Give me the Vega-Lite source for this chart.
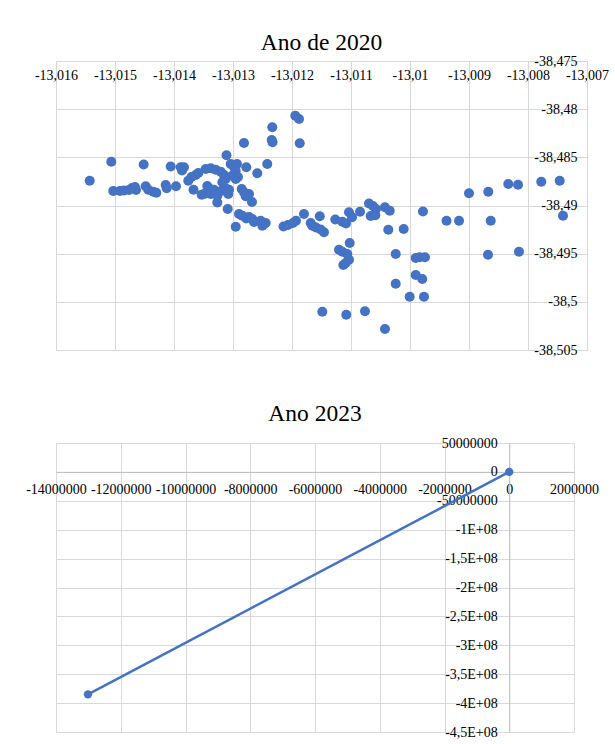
{
  "$schema": "https://vega.github.io/schema/vega-lite/v6.json",
  "background": "white",
  "padding": {"left": 25, "top": 30, "right": 5, "bottom": 5},
  "config": {
    "font": "Liberation Serif",
    "view": {"stroke": null},
    "title": {"font": "Liberation Serif", "fontSize": 23.5, "fontWeight": "normal", "color": "#000000", "anchor": "middle"},
    "axis": {
      "labelFont": "Liberation Serif", "labelFontSize": 14, "labelColor": "#000000",
      "gridColor": "#d9d9d9", "gridWidth": 1, "ticks": false, "title": null,
      "domainColor": "#d9d9d9", "labelOverlap": false, "labelFlush": false, "labelBound": false
    }
  },
  "vconcat": [
    {
      "title": {"text": "Ano de 2020", "offset": 0},
      "width": 531, "height": 289,
      "data": {"values": [
        {"lon": -13.015429, "lat": -38.487425}, {"lon": -13.015063, "lat": -38.485453},
        {"lon": -13.015029, "lat": -38.488494}, {"lon": -13.014915, "lat": -38.488494},
        {"lon": -13.014847, "lat": -38.488442}, {"lon": -13.014763, "lat": -38.48839},
        {"lon": -13.014712, "lat": -38.488183}, {"lon": -13.014661, "lat": -38.488079},
        {"lon": -13.014644, "lat": -38.48839}, {"lon": -13.014514, "lat": -38.485743},
        {"lon": -13.01448, "lat": -38.488006}, {"lon": -13.014436, "lat": -38.488359},
        {"lon": -13.014351, "lat": -38.488567}, {"lon": -13.0143, "lat": -38.48867},
        {"lon": -13.014141, "lat": -38.487871}, {"lon": -13.014124, "lat": -38.488214},
        {"lon": -13.014056, "lat": -38.485951}, {"lon": -13.013966, "lat": -38.488006},
        {"lon": -13.013886, "lat": -38.486034}, {"lon": -13.013831, "lat": -38.486034},
        {"lon": -13.013864, "lat": -38.486366}, {"lon": -13.013758, "lat": -38.487425},
        {"lon": -13.013703, "lat": -38.487041}, {"lon": -13.013632, "lat": -38.486833},
        {"lon": -13.013588, "lat": -38.486626}, {"lon": -13.013669, "lat": -38.488359},
        {"lon": -13.013531, "lat": -38.488878}, {"lon": -13.013463, "lat": -38.48621},
        {"lon": -13.013378, "lat": -38.486138}, {"lon": -13.013293, "lat": -38.486283},
        {"lon": -13.013208, "lat": -38.486491}, {"lon": -13.013153, "lat": -38.486833},
        {"lon": -13.013124, "lat": -38.487248}, {"lon": -13.013181, "lat": -38.487591},
        {"lon": -13.013436, "lat": -38.487975}, {"lon": -13.013398, "lat": -38.488235},
        {"lon": -13.013322, "lat": -38.488359}, {"lon": -13.013492, "lat": -38.488805},
        {"lon": -13.013378, "lat": -38.488805}, {"lon": -13.013266, "lat": -38.488982},
        {"lon": -13.013266, "lat": -38.489688}, {"lon": -13.013192, "lat": -38.488463},
        {"lon": -13.013124, "lat": -38.488214}, {"lon": -13.013068, "lat": -38.488359},
        {"lon": -13.01308, "lat": -38.488805}, {"lon": -13.01309, "lat": -38.490362},
        {"lon": -13.01311, "lat": -38.484788}, {"lon": -13.013039, "lat": -38.485691},
        {"lon": -13.012983, "lat": -38.486003}, {"lon": -13.012932, "lat": -38.485691},
        {"lon": -13.012954, "lat": -38.486418}, {"lon": -13.013012, "lat": -38.486906},
        {"lon": -13.012954, "lat": -38.487248}, {"lon": -13.012915, "lat": -38.487041},
        {"lon": -13.012853, "lat": -38.488286}, {"lon": -13.012814, "lat": -38.488629},
        {"lon": -13.012785, "lat": -38.489044}, {"lon": -13.012729, "lat": -38.488805},
        {"lon": -13.012678, "lat": -38.489636}, {"lon": -13.012775, "lat": -38.486034},
        {"lon": -13.012814, "lat": -38.483512}, {"lon": -13.012588, "lat": -38.486657},
        {"lon": -13.012419, "lat": -38.485691}, {"lon": -13.012334, "lat": -38.481882},
        {"lon": -13.012344, "lat": -38.4832}, {"lon": -13.01233, "lat": -38.483439},
        {"lon": -13.011944, "lat": -38.480678}, {"lon": -13.011881, "lat": -38.48102},
        {"lon": -13.011869, "lat": -38.483532}, {"lon": -13.012898, "lat": -38.490881},
        {"lon": -13.012842, "lat": -38.491058}, {"lon": -13.012775, "lat": -38.491349},
        {"lon": -13.012729, "lat": -38.491193}, {"lon": -13.012673, "lat": -38.4914},
        {"lon": -13.012644, "lat": -38.491712}, {"lon": -13.012531, "lat": -38.491577},
        {"lon": -13.012475, "lat": -38.491919}, {"lon": -13.012446, "lat": -38.491816},
        {"lon": -13.012503, "lat": -38.492096}, {"lon": -13.012954, "lat": -38.4922},
        {"lon": -13.012144, "lat": -38.492179}, {"lon": -13.012068, "lat": -38.492023},
        {"lon": -13.011983, "lat": -38.491816}, {"lon": -13.011932, "lat": -38.491577},
        {"lon": -13.011797, "lat": -38.490881}, {"lon": -13.011683, "lat": -38.491816},
        {"lon": -13.011656, "lat": -38.492096}, {"lon": -13.011593, "lat": -38.492283},
        {"lon": -13.011514, "lat": -38.49249}, {"lon": -13.011458, "lat": -38.492781},
        {"lon": -13.011529, "lat": -38.49112}, {"lon": -13.011266, "lat": -38.491452},
        {"lon": -13.011147, "lat": -38.491681}, {"lon": -13.011085, "lat": -38.491868},
        {"lon": -13.011034, "lat": -38.490705}, {"lon": -13.010983, "lat": -38.491224},
        {"lon": -13.010847, "lat": -38.490643}, {"lon": -13.010695, "lat": -38.489792},
        {"lon": -13.010627, "lat": -38.490051}, {"lon": -13.010576, "lat": -38.490362},
        {"lon": -13.010666, "lat": -38.491089}, {"lon": -13.010588, "lat": -38.491016},
        {"lon": -13.010424, "lat": -38.490186}, {"lon": -13.010344, "lat": -38.490539},
        {"lon": -13.010368, "lat": -38.492511}, {"lon": -13.010107, "lat": -38.492438},
        {"lon": -13.00978, "lat": -38.490622}, {"lon": -13.009381, "lat": -38.491577},
        {"lon": -13.009169, "lat": -38.491577}, {"lon": -13.009, "lat": -38.488722},
        {"lon": -13.008673, "lat": -38.488567}, {"lon": -13.008632, "lat": -38.491577},
        {"lon": -13.008334, "lat": -38.487767}, {"lon": -13.008169, "lat": -38.48784},
        {"lon": -13.007775, "lat": -38.487529}, {"lon": -13.007463, "lat": -38.487425},
        {"lon": -13.007407, "lat": -38.491058}, {"lon": -13.011022, "lat": -38.493892},
        {"lon": -13.011203, "lat": -38.494587}, {"lon": -13.011147, "lat": -38.494795},
        {"lon": -13.011063, "lat": -38.495033}, {"lon": -13.011034, "lat": -38.495625},
        {"lon": -13.01109, "lat": -38.495968}, {"lon": -13.01113, "lat": -38.496175},
        {"lon": -13.010242, "lat": -38.495033}, {"lon": -13.009903, "lat": -38.495449},
        {"lon": -13.009836, "lat": -38.495376}, {"lon": -13.009746, "lat": -38.495376},
        {"lon": -13.009903, "lat": -38.497213}, {"lon": -13.009792, "lat": -38.497628},
        {"lon": -13.010242, "lat": -38.498116}, {"lon": -13.010005, "lat": -38.499466},
        {"lon": -13.009763, "lat": -38.499466}, {"lon": -13.011486, "lat": -38.501023},
        {"lon": -13.01108, "lat": -38.501334}, {"lon": -13.010763, "lat": -38.500981},
        {"lon": -13.010424, "lat": -38.502818}, {"lon": -13.008678, "lat": -38.495106},
        {"lon": -13.008153, "lat": -38.494795}
      ]},
      "mark": {"type": "point", "filled": true, "opacity": 1, "size": 100, "color": "#4472C4"},
      "encoding": {
        "x": {"field": "lon", "type": "quantitative",
          "scale": {"domain": [-13.016, -13.007], "nice": false, "zero": false},
          "axis": {"orient": "bottom", "offset": -289, "labelPadding": 7, "labelBaseline": "top",
            "labelFont": "Liberation Serif", "labelFontSize": 14,
            "values": [-13.016, -13.015, -13.014, -13.013, -13.012, -13.011, -13.01, -13.009, -13.008, -13.007],
            "labelExpr": "replace(replace(format(datum.value, '.3~f'), '.', ','), '\u2212', '-')"}},
        "y": {"field": "lat", "type": "quantitative",
          "scale": {"domain": [-38.505, -38.475], "nice": false, "zero": false},
          "axis": {"orient": "left", "offset": -531, "labelPadding": 10,
            "labelFont": "Liberation Serif", "labelFontSize": 14,
            "values": [-38.505, -38.5, -38.495, -38.49, -38.485, -38.48, -38.475],
            "labelExpr": "replace(replace(format(datum.value, '.4~f'), '.', ','), '\u2212', '-')"}}
      }
    },
    {
      "title": {"text": "Ano 2023", "offset": 11},
      "width": 518, "height": 289,
      "data": {"values": [
        {"x": 0, "y": 0},
        {"x": -13013000, "y": -384900000}
      ]},
      "layer": [
        {"mark": {"type": "line", "color": "#4472C4", "strokeWidth": 2.5}},
        {"mark": {"type": "point", "filled": true, "opacity": 1, "size": 70, "color": "#4472C4"}}
      ],
      "encoding": {
        "x": {"field": "x", "type": "quantitative",
          "scale": {"domain": [-14000000, 2000000], "nice": false, "zero": false},
          "axis": {"orient": "bottom", "offset": -260.1, "labelPadding": 11, "labelBaseline": "top",
            "labelFont": "Liberation Serif", "labelFontSize": 14,
            "values": [-14000000, -12000000, -10000000, -8000000, -6000000, -4000000, -2000000, 0, 2000000],
            "domainColor": "#bfbfbf", "labelExpr": "replace(format(datum.value, 'd'), '\u2212', '-')"}},
        "y": {"field": "y", "type": "quantitative",
          "scale": {"domain": [-450000000, 50000000], "nice": false, "zero": false},
          "axis": {"orient": "left", "offset": -453.25, "labelPadding": 12,
            "labelFont": "Liberation Serif", "labelFontSize": 14,
            "values": [-450000000, -400000000, -350000000, -300000000, -250000000, -200000000, -150000000, -100000000, -50000000, 0, 50000000],
            "domainColor": "#bfbfbf",
            "labelExpr": "abs(datum.value) >= 100000000 ? replace(replace(format(datum.value / 100000000, '.1~f'), '.', ','), '\u2212', '-') + 'E+08' : replace(format(datum.value, 'd'), '\u2212', '-')"}}
      }
    }
  ],
  "spacing": 93,
  "bounds": "flush"
}
